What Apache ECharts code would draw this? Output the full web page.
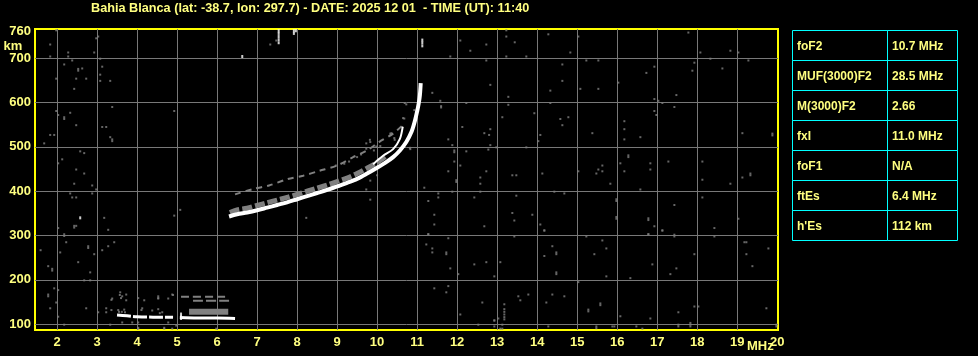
<!DOCTYPE html>
<html><head><meta charset="utf-8">
<script src="https://cdn.jsdelivr.net/npm/echarts@6/dist/echarts.min.js"></script>
<style>html,body{margin:0;padding:0;background:#000;}#c{width:978px;height:356px;}</style>
</head><body><div id="c"></div>
<script>
const titleText = "Bahia Blanca (lat: -38.7, lon: 297.7) - DATE: 2025 12 01  - TIME (UT): 11:40";
const xTicks = [2,3,4,5,6,7,8,9,10,11,12,13,14,15,16,17,18,19];
const xLabels = [2,3,4,5,6,7,8,9,10,11,12,13,14,15,16,17,18,19,20];
const yTicks = [100,200,300,400,500,600,700];
const yLabels = [100,200,300,400,500,600,700,760];
const tableNames = ['foF2','MUF(3000)F2','M(3000)F2','fxI','foF1','ftEs',"h'Es"];
const tableValues = ['10.7 MHz','28.5 MHz','2.66','11.0 MHz','N/A','6.4 MHz','112 km'];

// F-layer traces [MHz, km]
const mainTrace = [[6.3,343],[6.5,348],[6.75,352],[7.0,357],[7.25,363],[7.5,369],[7.75,375],[8.0,382],[8.25,389],[8.5,396],[8.75,403],[9.0,411],[9.25,419],[9.5,428],[9.75,440],[10.0,453],[10.2,464],[10.4,477],[10.57,492],[10.73,511],[10.86,534],[10.94,557],[11.0,580],[11.04,598],[11.07,617],[11.09,644]];
const grayBand = [[6.32,352],[6.5,358],[6.75,362],[7.0,368],[7.25,374],[7.5,380],[7.75,386],[8.0,393],[8.25,400],[8.5,407],[8.75,414],[9.0,422],[9.25,430],[9.5,440],[9.75,452],[10.0,465],[10.2,478]];
const upperTrace = [[6.45,393],[6.9,405],[7.3,413],[7.75,427],[8.15,435],[8.55,446],[9.0,458],[9.4,477],[9.75,492],[10.05,511],[10.4,530],[10.65,550]];
const branchTrace = [[9.9,461],[10.15,480],[10.4,495],[10.57,518],[10.64,545]];
// Es traces
const esWhiteA = [[3.5,121],[3.75,119],[4.0,117],[4.4,116],[4.9,116]];
const esWhiteB = [[5.07,115],[5.5,114],[6.0,114],[6.45,113]];
const esGrayBlock = [[5.3,128],[6.28,128]];
const esGrayDashA = [[5.1,162],[6.3,162]];
const esGrayDashB = [[5.4,153],[6.3,153]];
const whiteDots = [[2.58,340],[6.63,704],[7.54,735],[7.54,742],[7.54,749],[7.54,756],[7.54,762],[7.92,756],[7.92,762],[7.97,762],[11.13,728],[11.13,735],[11.13,741],[5.1,113],[5.1,118],[5.1,123]];
const grayDots = [
[12.08,740],[12.33,717],[12.73,731],[13.23,763],[13.23,749],[13.44,736],[14.28,754],[15.03,749],[14.83,713],[11.83,704],[13.23,704],[13.73,704],[12.73,695],[15.23,695],[15.53,695],[17.78,758],[18.08,713],[18.83,717],[19.03,713],[18.33,699],[19.28,695],[17.93,690],[17.88,672],[18.63,677],[16.93,681],[16.73,667],[14.63,686],[14.63,649],[12.83,640],[16.03,645],[14.33,627],[15.08,631],[15.53,631],[11.38,622],[13.28,613],[16.93,608],[17.03,604],[17.13,599],[17.48,617],[11.58,604],[11.6,592],[11.6,589],[12.23,599],[13.28,595],[14.33,599],[17.43,590],[16.93,581],[16.98,572],[13.13,567],[13.93,576],[14.58,563],[14.78,567],[14.63,549],[16.18,558],[16.18,540],[16.18,517],[16.58,522],[15.38,531],[12.13,545],[12.83,540],[12.68,531],[12.8,527],[14.08,527],[14.03,513],[11.78,517],[11.88,504],[12.83,504],[12.98,499],[13.73,499],[19.13,531],[19.88,530],[19.88,526],[11.93,492],[11.93,488],[12.23,490],[12.78,494],[11.93,467],[12.08,458],[11.78,445],[12.73,445],[11.98,425],[11.98,421],[12.58,431],[12.58,417],[13.38,436],[13.48,436],[14.13,440],[15.03,445],[15.48,440],[15.53,449],[15.63,458],[15.63,445],[15.83,417],[16.08,463],[16.28,481],[16.28,477],[16.18,445],[16.83,463],[16.83,449],[17.28,467],[18.13,467],[18.13,426],[18.83,417],[19.13,431],[19.33,440],[19.33,436],[11.18,408],[16.58,404],[11.88,399],[12.58,399],[14.43,399],[14.68,395],[11.53,395],[11.53,386],[11.28,378],[12.43,386],[13.48,390],[15.98,382],[15.98,378],[18.13,386],[17.43,369],[11.43,347],[13.38,351],[13.88,347],[13.43,334],[11.43,325],[12.68,321],[14.08,325],[14.18,312],[15.98,342],[15.98,338],[16.78,339],[16.78,335],[16.93,321],[17.13,312],[18.43,317],[19.03,338],[11.28,303],[16.78,303],[17.43,302],
[1.98,763],[3.03,749],[2.98,745],[1.83,731],[2.28,713],[2.93,713],[1.83,704],[2.28,704],[2.38,695],[3.08,699],[2.18,686],[3.13,681],[2.53,676],[2.53,672],[2.63,677],[3.08,663],[2.48,654],[2.73,654],[3.08,649],[3.33,649],[1.98,654],[2.43,631],[3.38,590],[1.98,581],[2.03,572],[2.18,567],[2.18,563],[2.33,577],[2.48,549],[3.13,545],[3.23,545],[4.93,581],[1.83,527],[1.93,527],[1.68,508],[3.33,522],[3.38,517],[3.38,513],[2.58,490],[2.68,486],[2.13,472],[2.03,463],[2.48,449],[2.68,440],[2.43,417],[2.88,413],[2.98,404],[2.88,395],[2.33,395],[2.38,386],[2.48,386],[3.18,340],[4.93,345],[5.08,358],[8.23,340],[2.03,317],[2.43,322],[2.43,318],[2.48,322],[3.28,313],[2.18,299],[9.83,381],[9.73,404],[7.48,740],[7.33,731],
[1.59,267],[2.18,303],[2.23,285],[2.08,262],[2.78,276],[2.78,272],[2.93,258],[3.13,267],[3.28,276],[3.43,285],[2.53,240],[1.78,231],[1.88,225],[1.88,221],[2.83,217],[2.68,199],[2.83,199],[1.93,181],[2.03,177],[1.78,167],[1.78,163],[1.98,149],[1.83,136],[2.03,117],[2.73,136],[3.03,127],[2.18,99],[3.33,99],[4.03,90],[4.68,90],[4.88,90],[5.98,90],[4.88,167],[4.78,158],[4.18,154],[4.53,163],[4.53,158],[3.38,158],[3.58,172],[3.63,163],[3.73,167],[3.73,154],[3.23,127],[4.13,136],[4.38,131],[4.63,127],[4.03,104],[3.88,104],[4.78,104],[3.63,104],
[11.28,303],[11.23,280],[11.38,271],[11.38,262],[11.73,262],[11.73,258],[11.78,294],[11.83,226],[11.43,181],[11.73,172],[11.78,186],[12.03,213],[12.43,235],[12.73,240],[12.93,208],[12.08,122],[12.63,149],[12.53,99],[12.93,108],[12.93,95],
[13.08,240],[13.43,298],[14.18,311],[14.38,276],[14.48,262],[14.48,258],[14.18,254],[14.48,217],[14.48,213],[15.23,298],[15.63,289],[15.73,271],[15.43,258],[15.73,208],[16.78,303],[17.13,311],[17.43,298],[16.88,235],[17.48,226],[17.33,213],[17.93,258],[18.43,298],[19.18,285],[19.23,285],[19.23,258],[19.38,231],[19.78,271],[16.33,204],[15.03,195],[13.18,145],[13.18,134],[13.18,128],[13.18,122],[13.18,116],[13.18,111],[13.03,113],[12.93,109],[13.13,99],[13.08,90],[13.13,90],[13.53,163],[13.58,154],[13.78,167],[14.23,149],[14.38,167],[14.68,163],[14.28,95],[15.28,133],[15.28,129],[15.58,147],[15.58,143],[15.48,95],[15.48,91],[15.88,95],[15.93,95],[16.08,118],[16.48,95],[16.63,90],[16.83,113],[17.53,127],[17.53,99],[17.53,95],[17.83,103],[17.83,99],[17.83,95],[17.93,140],[18.03,140],[19.73,136],[19.98,99],[19.98,95],
[10.73,596],[10.93,583],[10.68,564],[10.63,545],[10.33,530],[10.43,520],[10.08,502],[9.83,511],[9.73,508],[9.73,496],[9.92,492],[9.5,477],[9.6,483],[9.3,467],[9.18,462],[8.97,458],[10.0,436],[9.83,424],[10.83,495],[10.69,599],[10.65,565],[10.36,531],[9.98,501],[10.44,516],[10.82,498],[9.82,516],
[3.57,166],[3.6,159],[3.36,155],[4.03,159],[4.53,159],[4.9,166],[3.53,132],[3.68,133],[4.11,132],[4.53,134],[4.57,125],[3.36,132],[3.23,136],[4.03,92],[4.68,92],[4.98,97],[3.55,128],[3.62,128],[3.7,127]
];

const YEL = '#ffff80', GRAY = '#808080', FONT = 'Liberation Sans, Arial, sans-serif';
const chart = echarts.init(document.getElementById('c'), null, {renderer:'canvas'});

function lineSeries(data, color, width, type, z) {
  return {type:'line', data:data, smooth:0.3, showSymbol:false, symbol:'none', silent:true, z:z,
    lineStyle:{color:color, width:width, type:type||'solid', cap:'butt'}, animation:false};
}

const graphics = [];
const tx0 = 792.5, tx1 = 887.5, tx2 = 957.5, ty0 = 30.5, rh = 30;
tableNames.forEach((n, i) => {
  const y = ty0 + rh * i;
  graphics.push({type:'rect', shape:{x:tx0, y:y, width:tx1-tx0, height:rh}, style:{fill:null, stroke:'#00ffff', lineWidth:1}});
  graphics.push({type:'rect', shape:{x:tx1, y:y, width:tx2-tx1, height:rh}, style:{fill:null, stroke:'#00ffff', lineWidth:1}});
  graphics.push({type:'text', x:797, y:y+rh/2+1, style:{text:n, fill:YEL, font:'bold 12px '+FONT, textVerticalAlign:'middle', textAlign:'left'}});
  graphics.push({type:'text', x:892, y:y+rh/2+1, style:{text:tableValues[i], fill:YEL, font:'bold 12px '+FONT, textVerticalAlign:'middle', textAlign:'left'}});
});

chart.setOption({
  backgroundColor:'#000',
  animation:false,
  title:{text:titleText, left:91, top:2, padding:0, textStyle:{color:YEL, fontSize:12.7, fontWeight:'bold', fontFamily:FONT}},
  grid:{left:35, top:29, width:743, height:301, show:true, borderColor:'#ffff00', borderWidth:2, backgroundColor:'#000', containLabel:false},
  xAxis:{type:'value', min:1.45, max:20.02,
    axisLine:{show:false}, axisTick:{show:false, customValues:xTicks},
    splitLine:{show:true, lineStyle:{color:'#787878', width:1}},
    axisLabel:{customValues:xLabels, color:YEL, fontSize:13, fontWeight:'bold', fontFamily:FONT, margin:6},
    name:'MHz', nameLocation:'end', nameGap:-31, nameMoveOverlap:false,
    nameTextStyle:{color:YEL, fontSize:13, fontWeight:'bold', fontFamily:FONT, align:'left', verticalAlign:'top', padding:[10,0,0,0]}
  },
  yAxis:{type:'value', min:87, max:766,
    axisLine:{show:false}, axisTick:{show:false, customValues:yTicks},
    splitLine:{show:true, lineStyle:{color:'#787878', width:1}},
    axisLabel:{customValues:yLabels, color:YEL, fontSize:13, fontWeight:'bold', fontFamily:FONT, margin:4},
    name:'km', nameLocation:'end', nameGap:-24, nameMoveOverlap:false,
    nameTextStyle:{color:YEL, fontSize:13, fontWeight:'bold', fontFamily:FONT, padding:[0,44,0,0]}
  },
  graphic:graphics,
  series:[
    {type:'scatter', data:grayDots, symbol:'rect', symbolSize:[2,2], itemStyle:{color:GRAY}, silent:true, z:2},
    lineSeries(grayBand, GRAY, 5, [10,3], 3),
    lineSeries(upperTrace, GRAY, 2, [6,5], 3),
    lineSeries(esGrayBlock, GRAY, 6, 'solid', 3),
    lineSeries(esGrayDashA, GRAY, 2, [8,4], 3),
    lineSeries(esGrayDashB, GRAY, 2, [10,3], 3),
    lineSeries(mainTrace, '#ffffff', 4, 'solid', 4),
    lineSeries(branchTrace, '#ffffff', 2, 'solid', 4),
    lineSeries(esWhiteA, '#ffffff', 3, [14,2], 4),
    lineSeries(esWhiteB, '#ffffff', 3, 'solid', 4),
    {type:'scatter', data:whiteDots, symbol:'rect', symbolSize:[2,3], itemStyle:{color:'#ffffff'}, silent:true, z:5}
  ]
});
</script></body></html>
